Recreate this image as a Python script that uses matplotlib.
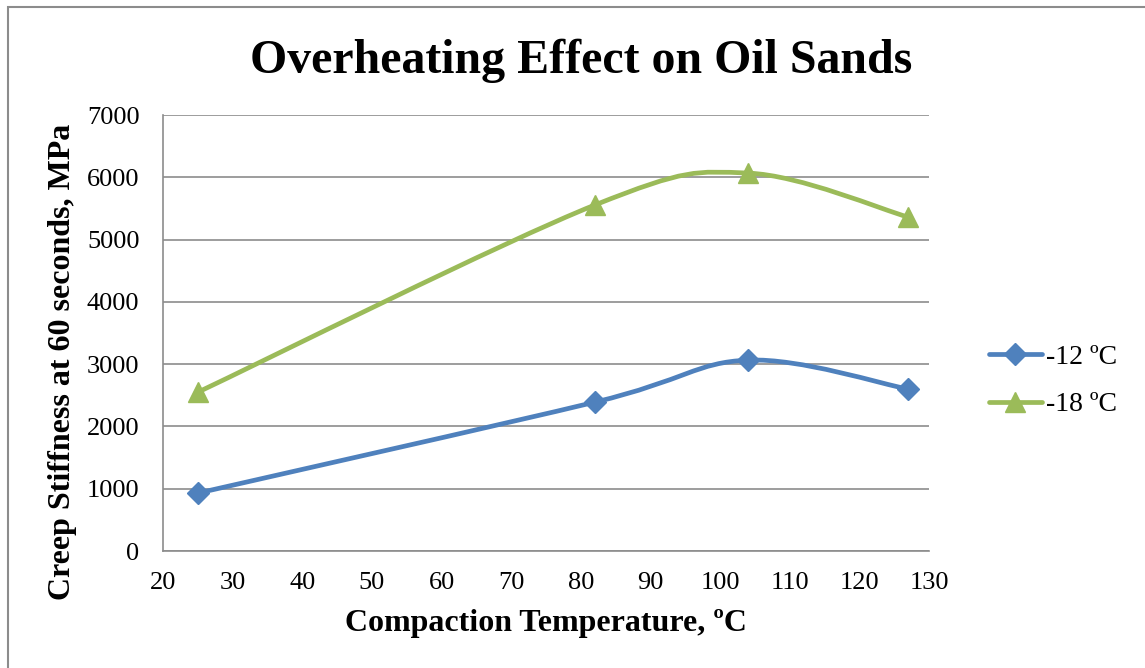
import matplotlib.pyplot as plt
from matplotlib.path import Path
from matplotlib.patches import PathPatch, Rectangle
from matplotlib.lines import Line2D
import numpy as np

# compaction temperature (C) and creep stiffness (MPa)
temps = [25, 82, 104, 127]
stiff_12 = [930, 2390, 3065, 2600]
stiff_18 = [2550, 5555, 6068, 5362]

series_names = ['-12 ºC', '-18 ºC']
colors = ['#4F81BD', '#9BBB59']
markers = ['D', '^']

plt.rcParams['font.family'] = ['Liberation Serif', 'DejaVu Serif']


def smooth_path(x, y):
    # Catmull-Rom style bezier through the points, like a spreadsheet "smoothed line"
    pts = np.column_stack([x, y]).astype(float)
    n = len(pts)
    verts = [pts[0]]
    codes = [Path.MOVETO]
    for i in range(n - 1):
        p0 = pts[i - 1] if i > 0 else pts[i]
        p1 = pts[i]
        p2 = pts[i + 1]
        p3 = pts[i + 2] if i + 2 < n else pts[i + 1]
        c1 = p1 + (p2 - p0) / 6.0
        c2 = p2 - (p3 - p1) / 6.0
        verts += [c1, c2, p2]
        codes += [Path.CURVE4] * 3
    return Path(verts, codes)


fig = plt.figure(figsize=(11.45, 6.68), dpi=100)
ax = fig.add_axes([0.1424, 0.1751, 0.669, 0.6527])

handles = []
for ys, col, mk, name in zip([stiff_12, stiff_18], colors, markers, series_names):
    ax.add_patch(PathPatch(smooth_path(temps, ys), facecolor='none', edgecolor=col,
                           lw=3.4, capstyle='round', joinstyle='round', zorder=3))
    ms = 11.5 if mk == 'D' else 14.5
    ax.plot(temps, ys, linestyle='none', marker=mk, markersize=ms, color=col, zorder=4)
    handles.append(Line2D([], [], color=col, lw=3.4, marker=mk, markersize=ms,
                          solid_capstyle='round', label=name))

ax.set_xlim(20, 130)
ax.set_ylim(0, 7000)
ax.set_xticks(np.arange(20, 131, 10))
ax.set_yticks(np.arange(0, 7001, 1000))
ax.yaxis.grid(True, color='#8C8C8C', lw=1.2)
ax.set_axisbelow(True)
ax.tick_params(length=0, labelsize=19)
ax.tick_params(axis='x', pad=15)
ax.tick_params(axis='y', pad=17)
for s in ['top', 'right']:
    ax.spines[s].set_visible(False)
for s in ['left', 'bottom']:
    ax.spines[s].set_color('#8C8C8C')
    ax.spines[s].set_linewidth(1.2)

ax.set_title('Overheating Effect on Oil Sands', fontsize=34.5, fontweight='bold', pad=30)
ax.title.set_x(0.546)
ax.set_xlabel('Compaction Temperature, ºC', fontsize=23, fontweight='bold', labelpad=11)
ax.set_ylabel('Creep Stiffness at 60 seconds, MPa', fontsize=23, fontweight='bold', labelpad=7)
ax.yaxis.label.set_y(0.433)

fig.legend(handles=handles, loc='center left', bbox_to_anchor=(0.842, 0.43),
           frameon=False, fontsize=20, handlelength=1.9, handletextpad=0.15,
           labelspacing=0.8)

# outer chart border
fig.patches.append(Rectangle((0.007, -0.1), 1.2, 1.0895, transform=fig.transFigure,
                             fill=False, edgecolor='#8C8C8C', lw=1.5))

fig.savefig('out.png', dpi=100, facecolor='white')
